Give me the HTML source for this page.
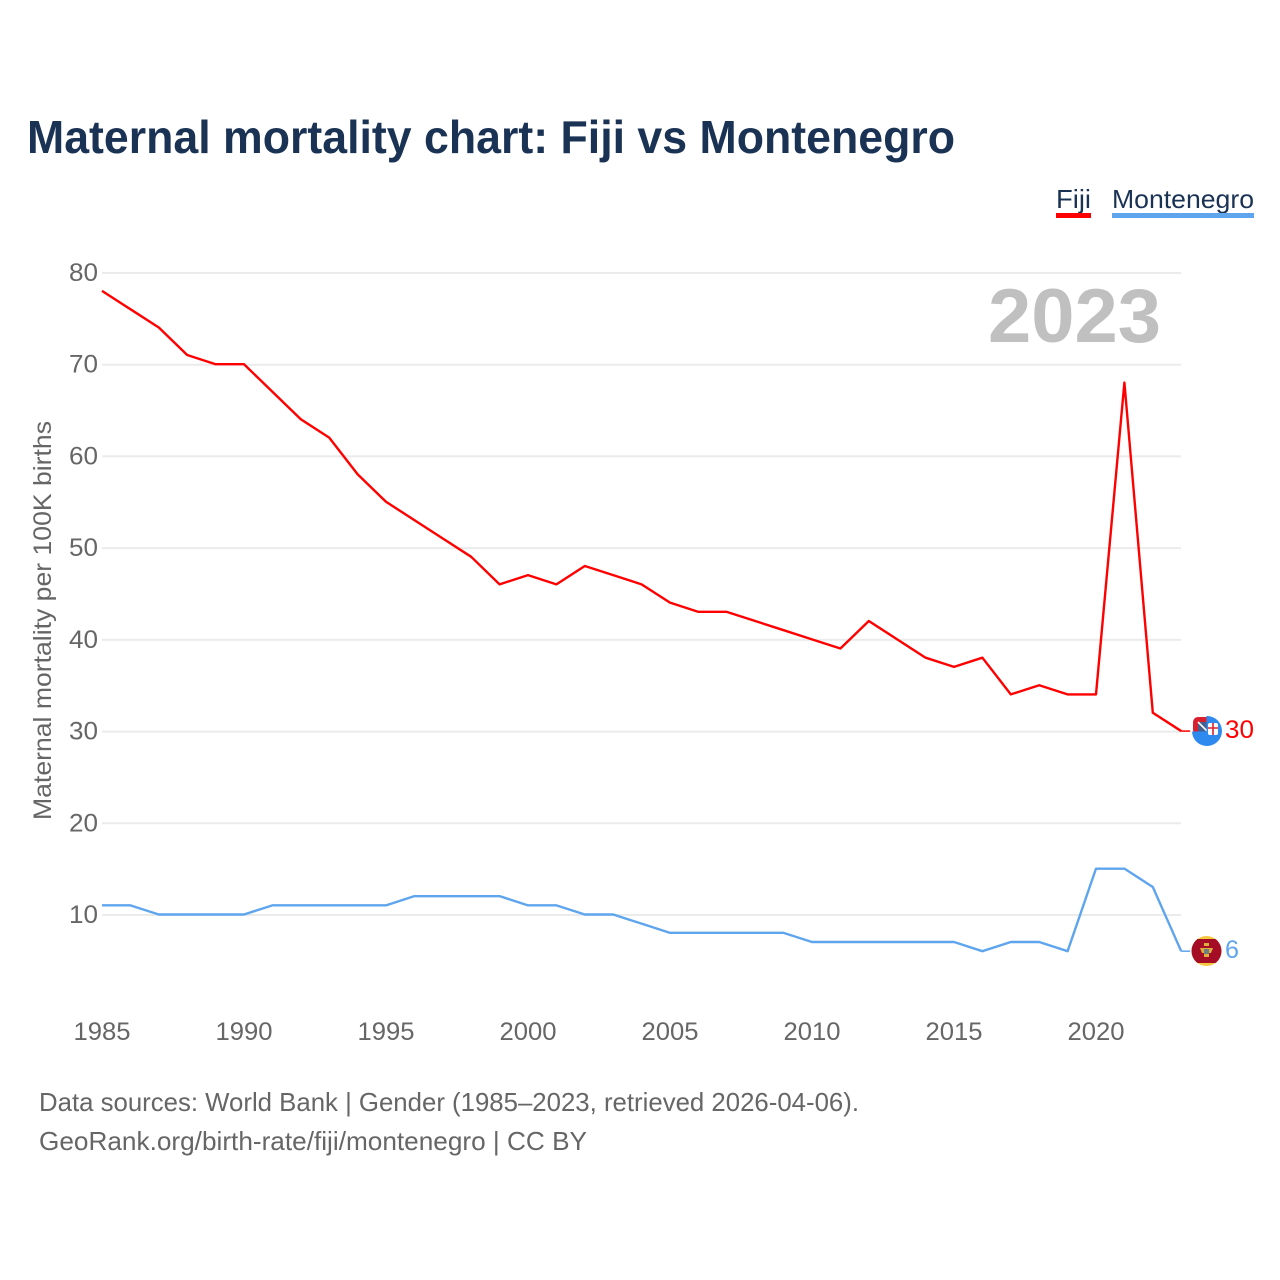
<!DOCTYPE html>
<html lang="en">
<head>
<meta charset="utf-8">
<title>Maternal mortality chart: Fiji vs Montenegro</title>
<style>
html,body{margin:0;padding:0;background:#fff;width:1280px;height:1280px;overflow:hidden}
svg{display:block}
text{font-family:"Liberation Sans",sans-serif}
</style>
</head>
<body>
<svg id="chart" xmlns="http://www.w3.org/2000/svg" width="1280" height="1280" viewBox="0 0 1280 1280">
  <defs>
    <clipPath id="montenegro-clip"><circle cx="1206.5" cy="951" r="15"/></clipPath>
  </defs>
  <rect x="0" y="0" width="1280" height="1280" fill="#ffffff"/>
  <text x="27" y="153" font-size="46" font-weight="700" fill="#1a3355" textLength="928" lengthAdjust="spacingAndGlyphs">Maternal mortality chart: Fiji vs Montenegro</text>

  <text x="1056" y="208" font-size="26" fill="#1a3355" textLength="35" lengthAdjust="spacingAndGlyphs">Fiji</text>
  <rect x="1056" y="213" width="35" height="5" fill="#ff0000"/>
  <text x="1112" y="208" font-size="26" fill="#1a3355" textLength="142" lengthAdjust="spacingAndGlyphs">Montenegro</text>
  <rect x="1112" y="213" width="142" height="5" fill="#5fa5ee"/>

  <g id="grid"></g>
  <g id="yticks"></g>
  <g id="xticks"></g>

  <text transform="translate(51,820) rotate(-90)" font-size="25" fill="#666666" textLength="399" lengthAdjust="spacingAndGlyphs">Maternal mortality per 100K births</text>
  <text x="988" y="342" font-size="76" font-weight="700" fill="#c0c0c0" textLength="173" lengthAdjust="spacingAndGlyphs">2023</text>

  <g id="series"></g>

  <g>
    <rect x="1193" y="717" width="18" height="18" rx="5" fill="#d8202f"/>
    <rect x="1198" y="722" width="10" height="10" fill="#45608f"/>
    <path d="M1198 722L1207 731" stroke="#ffffff" stroke-width="1.6"/>
    <path d="M1206.5 716A15 15 0 1 1 1192 731.5H1207.5V732H1206.5Z" fill="#2f8af0"/>
    <rect x="1208" y="723" width="10" height="12" rx="2" fill="#ffffff"/>
    <path d="M1213 723V735M1208 728H1218" stroke="#e0202f" stroke-width="1.6"/>
  </g>
  <text id="fiji-end-label" x="1225" y="738" font-size="25" fill="#ff0000" textLength="29" lengthAdjust="spacingAndGlyphs"></text>

  <g clip-path="url(#montenegro-clip)">
    <rect x="1191" y="936" width="31" height="30" fill="#f5c842"/>
    <rect x="1191" y="939" width="31" height="24" fill="#a50d26"/>
    <path d="M1204 943h5v3h-5zM1200 948h13l-2 5h-2v4h-5v-4h-2z" fill="#dcae3c"/>
    <rect x="1204" y="949" width="5" height="5" fill="#6f7f80"/>
  </g>
  <text id="montenegro-end-label" x="1225" y="958" font-size="25" fill="#5fa5ee" textLength="14" lengthAdjust="spacingAndGlyphs"></text>

  <text x="39" y="1111" font-size="26" fill="#666666" textLength="820" lengthAdjust="spacingAndGlyphs">Data sources: World Bank | Gender (1985–2023, retrieved 2026-04-06).</text>
  <text x="39" y="1150" font-size="26" fill="#666666" textLength="548" lengthAdjust="spacingAndGlyphs">GeoRank.org/birth-rate/fiji/montenegro | CC BY</text>
</svg>
<script>
const years = [1985,1986,1987,1988,1989,1990,1991,1992,1993,1994,1995,1996,1997,1998,1999,2000,2001,2002,2003,2004,2005,2006,2007,2008,2009,2010,2011,2012,2013,2014,2015,2016,2017,2018,2019,2020,2021,2022,2023];
const fijiValues = [78,76,74,71,70,70,67,64,62,58,55,53,51,49,46,47,46,48,47,46,44,43,43,42,41,40,39,42,40,38,37,38,34,35,34,34,68,32,30];
const montenegroValues = [11,11,10,10,10,10,11,11,11,11,11,12,12,12,12,11,11,10,10,9,8,8,8,8,8,7,7,7,7,7,7,6,7,7,6,15,15,13,6];
const yTickValues = [10,20,30,40,50,60,70,80];
const xTickValues = [1985,1990,1995,2000,2005,2010,2015,2020];

const NS = 'http://www.w3.org/2000/svg';
function xScale(year){ return 102 + (year - 1985) * (1096 - 102) / 35; }
function yScale(v){ return 915 - (v - 10) * (915 - 273) / 70; }
function make(tag, attrs, parent){
  const el = document.createElementNS(NS, tag);
  for (const k in attrs) el.setAttribute(k, attrs[k]);
  parent.appendChild(el);
  return el;
}

const gridG = document.getElementById('grid');
const yG = document.getElementById('yticks');
const xG = document.getElementById('xticks');
const seriesG = document.getElementById('series');

yTickValues.forEach(function(v){
  const line = make('line', {x1:102, x2:1181, y1:yScale(v), y2:yScale(v), stroke:'#ebebeb', 'stroke-width':2}, gridG);
  
  
  const t = make('text', {x:98, y:yScale(v) + 8, 'text-anchor':'end', 'font-size':25, fill:'#666666', textLength:29, lengthAdjust:'spacingAndGlyphs'}, yG);
  t.textContent = String(v);
  
  
});

xTickValues.forEach(function(y){
  const t = make('text', {x:xScale(y), y:1040, 'text-anchor':'middle', 'font-size':25, fill:'#666666', textLength:57, lengthAdjust:'spacingAndGlyphs'}, xG);
  t.textContent = String(y);
  
  
});

function linePath(values){
  return values.map(function(v, i){
    return (i ? 'L' : 'M') + xScale(years[i]).toFixed(2) + ' ' + (yScale(v) - 0.5).toFixed(2);
  }).join('');
}

const fijiLine = make('path', {d:linePath(fijiValues), fill:'none', stroke:'#ff0000', 'stroke-width':2.4, 'stroke-linejoin':'round'}, seriesG);


const montenegroLine = make('path', {d:linePath(montenegroValues), fill:'none', stroke:'#5fa5ee', 'stroke-width':2.4, 'stroke-linejoin':'round'}, seriesG);



const lastX = xScale(years[years.length - 1]);
const fijiLast = fijiValues[fijiValues.length - 1];
const montenegroLast = montenegroValues[montenegroValues.length - 1];
const fijiConnector = make('line', {x1:lastX, x2:lastX + 9, y1:yScale(fijiLast) - 0.5, y2:yScale(fijiLast) - 0.5, stroke:'#ff0000', 'stroke-width':1.5}, seriesG);


const montenegroConnector = make('line', {x1:lastX, x2:lastX + 9, y1:yScale(montenegroLast) - 0.5, y2:yScale(montenegroLast) - 0.5, stroke:'#5fa5ee', 'stroke-width':1.5}, seriesG);



document.getElementById('fiji-end-label').textContent = String(fijiLast);
document.getElementById('montenegro-end-label').textContent = String(montenegroLast);
</script>
</body>
</html>
